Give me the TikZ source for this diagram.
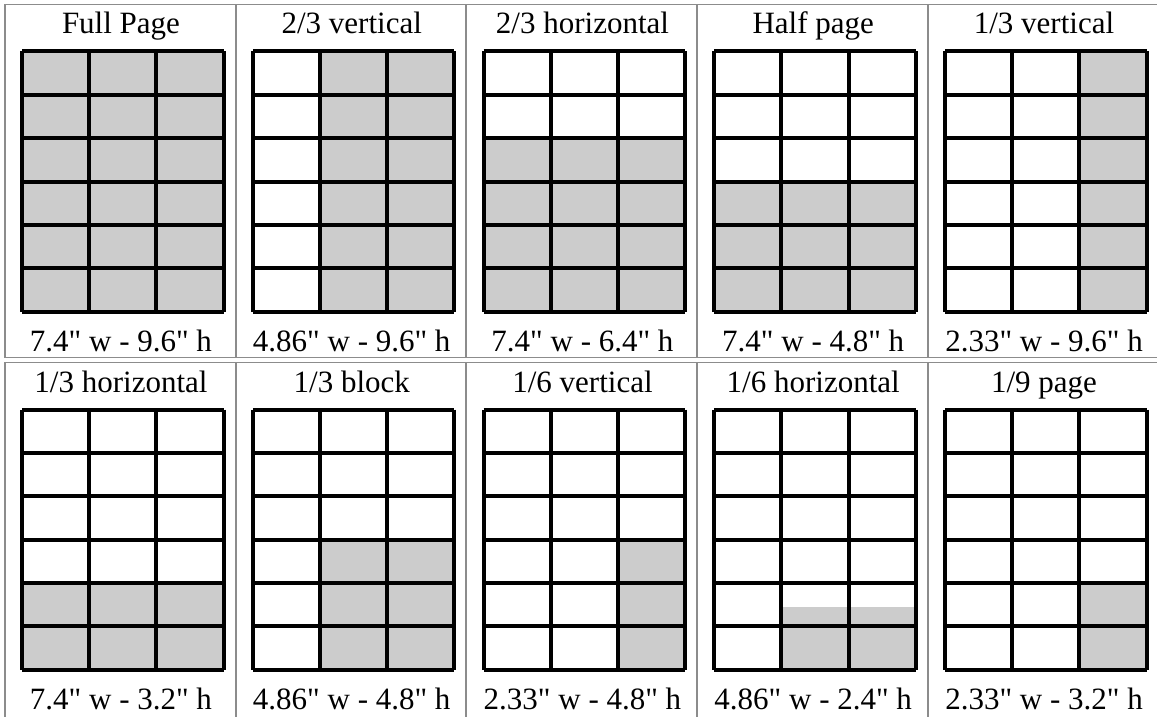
\documentclass[tikz,border=0pt]{standalone}
\usepackage{fontspec}
\setmainfont{Liberation Serif}[Ligatures=TeXOff]
\definecolor{cellgray}{RGB}{204,204,204}
\definecolor{bordergray}{RGB}{140,140,140}
\tikzset{
  lbl/.style={anchor=base, inner sep=0pt, font=\fontsize{31}{36}\selectfont},
  gridline/.style={line width=4pt, black, line cap=square},
  cellborder/.style={bordergray, line width=1.6pt}
}
% shade columns #1..#2, rows #3..#4 (1-based, rows from top)
\newcommand\shadecells[4]{\fill[cellgray] ({22+(#1-1)*67.1667},{51.5+(#3-1)*43.375}) rectangle ({22+#2*67.1667},{51.5+#4*43.375});}
% panel: column, row, title, caption, fills
\newcommand\panel[5]{%
  \begin{scope}[shift={({#1*230.75},{#2*358})}]
    \ifnum#2=0
      \draw[cellborder] (5,4.5) rectangle (235.5,357.5);
    \else
      \draw[cellborder] (5,4.5) rectangle (235.5,362);
    \fi
    #5
    \foreach \i in {0,...,3} \draw[gridline] ({22+\i*67.1667},51.5) -- ({22+\i*67.1667},311.75);
    \foreach \j in {0,...,6} \draw[gridline] (22,{51.5+\j*43.375}) -- (223.5,{51.5+\j*43.375});
    \node[lbl] (title-#1-#2) at (121,34) {#3};
    \node[lbl] (cap-#1-#2) at (121,351.5) {#4};
  \end{scope}}
\begin{document}
\begin{tikzpicture}[x=1pt,y=-1pt]
\useasboundingbox (0,0) rectangle (1157,717);
\fill[white] (0,0) rectangle (1157,717);
\panel{0}{0}{Full Page}{7.4" w - 9.6" h}{\shadecells{1}{3}{1}{6}}
\panel{1}{0}{2/3 vertical}{4.86" w - 9.6" h}{\shadecells{2}{3}{1}{6}}
\panel{2}{0}{2/3 horizontal}{7.4" w - 6.4" h}{\shadecells{1}{3}{3}{6}}
\panel{3}{0}{Half page}{7.4" w - 4.8" h}{\shadecells{1}{3}{4}{6}}
\panel{4}{0}{1/3 vertical}{2.33" w - 9.6" h}{\shadecells{3}{3}{1}{6}}
\panel{0}{1}{1/3 horizontal}{7.4" w - 3.2" h}{\shadecells{1}{3}{5}{6}}
\panel{1}{1}{1/3 block}{4.86" w - 4.8" h}{\shadecells{2}{3}{4}{6}}
\panel{2}{1}{1/6 vertical}{2.33" w - 4.8" h}{\shadecells{3}{3}{4}{6}}
\panel{3}{1}{1/6 horizontal}{4.86" w - 2.4" h}{\fill[cellgray] ({22+67.1667},249) rectangle (223.5,311.75);}
\panel{4}{1}{1/9 page}{2.33" w - 3.2" h}{\shadecells{3}{3}{5}{6}}
\end{tikzpicture}
\end{document}
